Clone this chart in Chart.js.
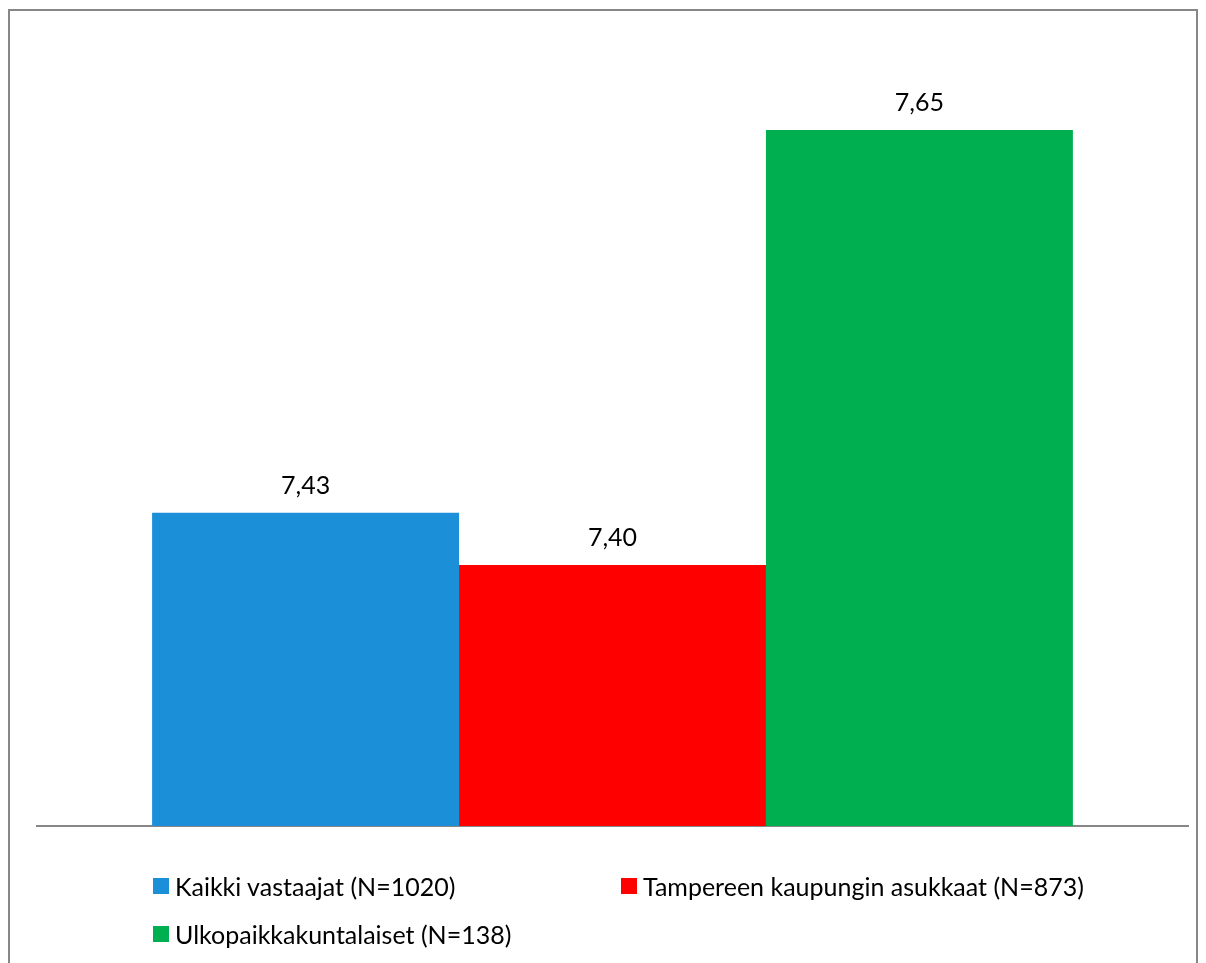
<!DOCTYPE html>
<html lang="fi">
<head>
<meta charset="utf-8">
<title>Kokonaisarvosana</title>
<script src="https://cdn.jsdelivr.net/npm/chart.js@4/dist/chart.umd.min.js"></script>
<style>
  html, body { margin: 0; padding: 0; background: #fff; overflow: hidden; }
  #wrap { position: relative; width: 1206px; height: 963px; }
  #frame {
    position: absolute; left: 8px; top: 9px; width: 1190px; height: 1000px;
    border: 2px solid #878787; box-sizing: border-box;
  }
  #chart { position: absolute; left: 0; top: 0; }
  #legend {
    position: absolute; left: 153px; top: 870px;
    display: grid; grid-template-columns: 468px auto; row-gap: 16px;
    font-family: Lato, "Open Sans", sans-serif; font-size: 25px; color: #000;
  }
  .item { display: flex; align-items: center; height: 32px; }
  .box { width: 16px; height: 16px; margin-right: 6px; flex: none; }
</style>
</head>
<body>
<div id="wrap">
  <div id="frame"></div>
  <canvas id="chart" width="1206" height="963"></canvas>
  <div id="legend"></div>
</div>
<script>
const seriesNames = ["Kaikki vastaajat (N=1020)", "Tampereen kaupungin asukkaat (N=873)", "Ulkopaikkakuntalaiset (N=138)"];
const seriesValues = [7.43, 7.40, 7.65];
const seriesColors = ["#1c8fd9", "#ff0000", "#00b050"];

// value labels above each bar, Finnish decimal comma
const valueLabels = {
    id: "valueLabels",
    afterDatasetsDraw(chart) {
        const ctx = chart.ctx;
        ctx.save();
        ctx.font = "25px Lato, 'Open Sans', sans-serif";
        ctx.fillStyle = "#000";
        ctx.textAlign = "center";
        ctx.textBaseline = "middle";
        chart.data.datasets.forEach((ds, i) => {
            chart.getDatasetMeta(i).data.forEach((bar, j) => {
                ctx.fillText(ds.data[j].toFixed(2).replace(".", ","), bar.x, bar.y - 27);
            });
        });
        ctx.restore();
    }
};

const chart = new Chart(document.getElementById("chart").getContext("2d"), {
    type: "bar",
    data: {
        labels: [""],
        datasets: seriesNames.map((name, i) => ({
            label: name,
            data: [seriesValues[i]],
            backgroundColor: seriesColors[i],
            borderWidth: 0
        }))
    },
    options: {
        responsive: false,
        animation: false,
        events: [],
        layout: { padding: { left: 37, right: 18, top: 43, bottom: 137 } },
        datasets: { bar: { categoryPercentage: 0.8, barPercentage: 1.0 } },
        plugins: { legend: { display: false }, tooltip: { enabled: false } },
        scales: {
            x: {
                grid: { display: false, drawTicks: false },
                ticks: { display: false },
                border: { display: true, color: "#878787", width: 2 }
            },
            y: { display: false, min: 7.25, max: 7.7 }
        }
    },
    plugins: [valueLabels]
});

// legend built from the chart's datasets
const legendEl = document.getElementById("legend");
chart.data.datasets.forEach(ds => {
    const item = document.createElement("div");
    item.className = "item";
    item.innerHTML = `<span class="box" style="background:${ds.backgroundColor}"></span><span>${ds.label}</span>`;
    legendEl.appendChild(item);
});
</script>
</body>
</html>
